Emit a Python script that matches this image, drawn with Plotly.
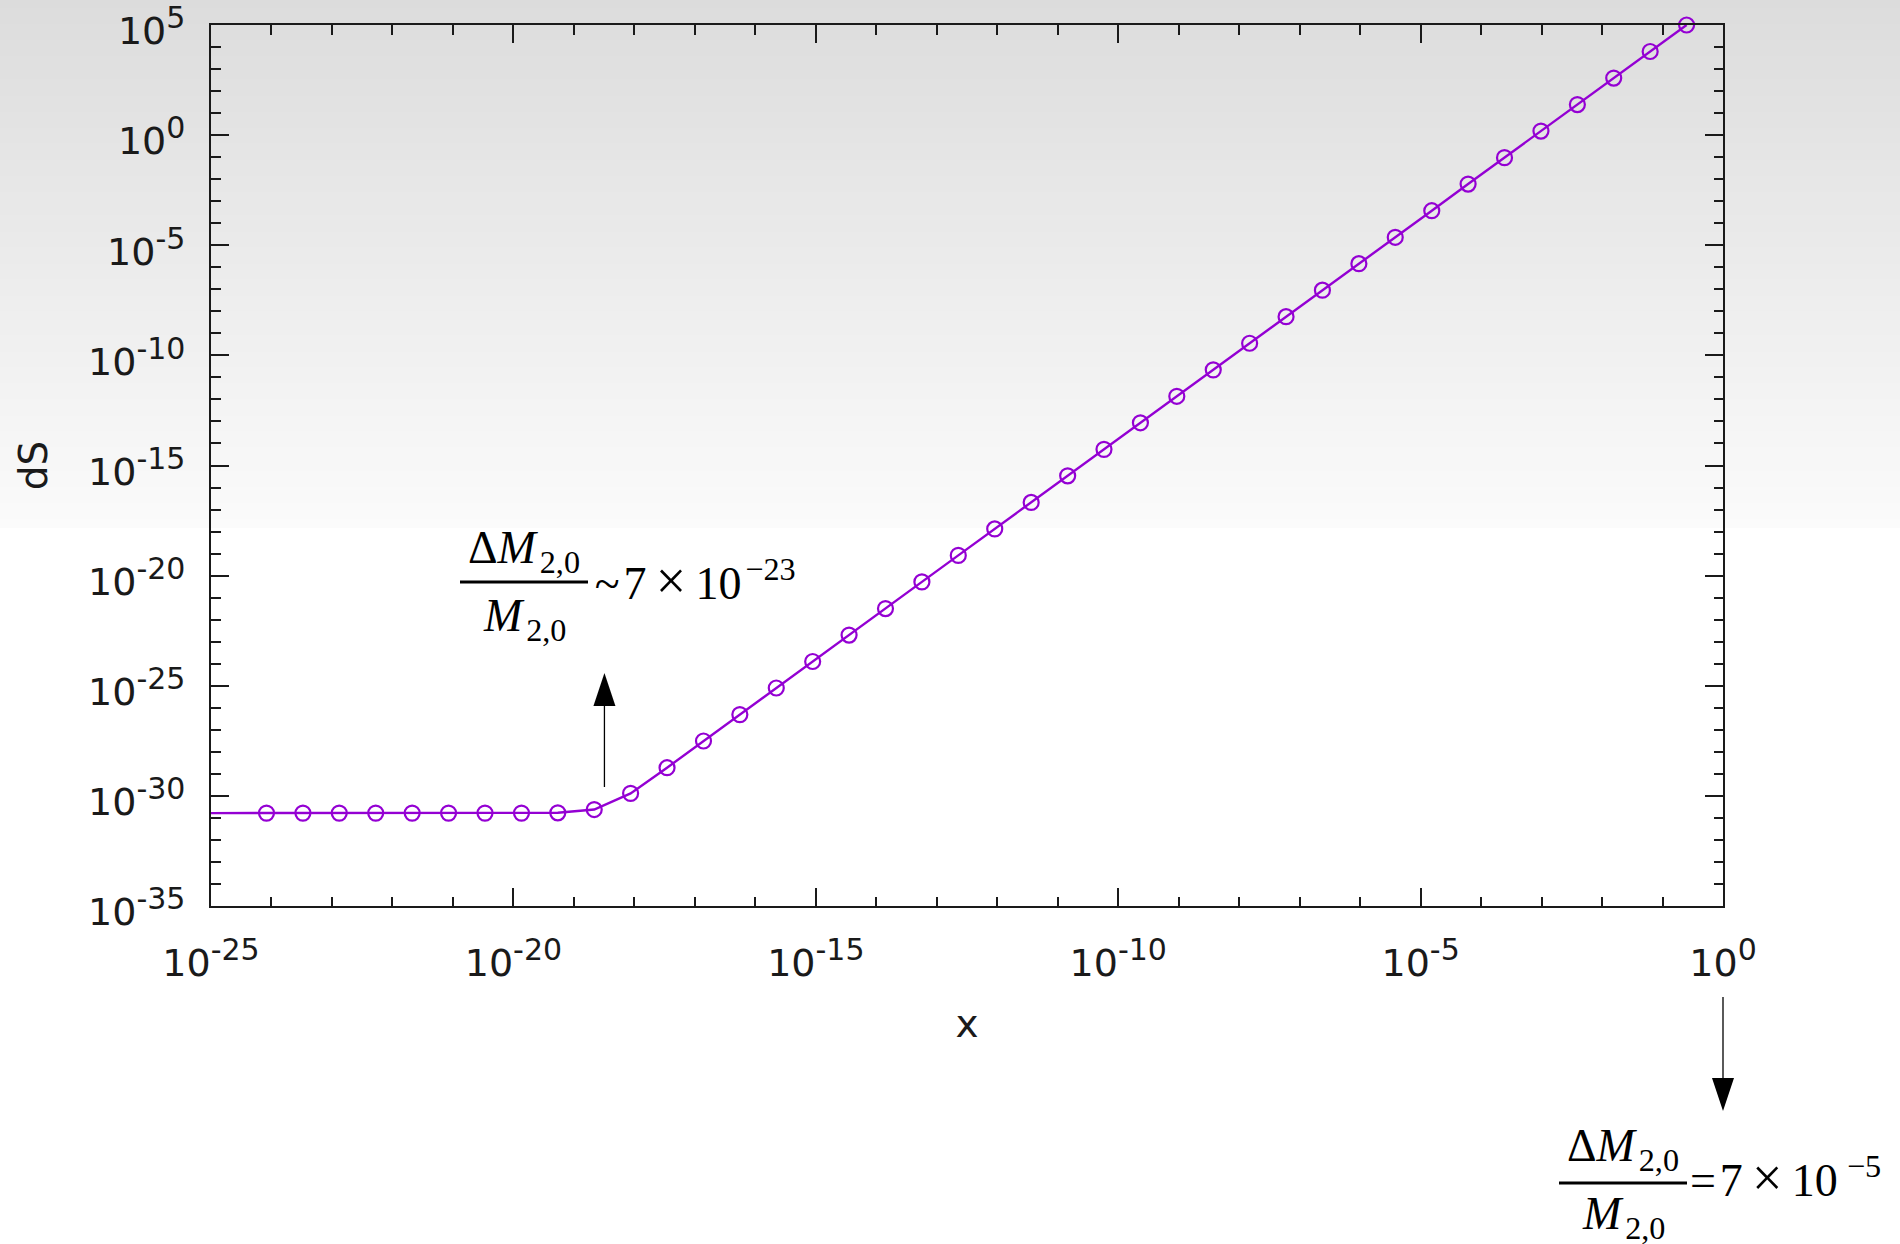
import math
import plotly.graph_objects as go

# ---------------------------------------------------------------- data
# sample points x = 4^-n (n = 40 ... 1) and the measured dS at each
x_pts = [8.27e-25, 3.31e-24, 1.32e-23, 5.29e-23, 2.12e-22, 8.47e-22, 3.39e-21,
         1.36e-20, 5.42e-20, 2.17e-19, 8.67e-19, 3.47e-18, 1.39e-17, 5.55e-17,
         2.22e-16, 8.88e-16, 3.55e-15, 1.42e-14, 5.68e-14, 2.27e-13, 9.09e-13,
         3.64e-12, 1.46e-11, 5.82e-11, 2.33e-10, 9.31e-10, 3.73e-9, 1.49e-8,
         5.96e-8, 2.38e-7, 9.54e-7, 3.81e-6, 1.53e-5, 6.10e-5, 2.44e-4, 9.77e-4,
         3.91e-3, 1.56e-2, 6.25e-2, 0.25]
dS_pts = [1.65e-31, 1.65e-31, 1.65e-31, 1.65e-31, 1.65e-31, 1.65e-31, 1.65e-31,
          1.65e-31, 1.7e-31, 2.4e-31, 1.3e-30, 1.9e-29, 3.1e-28, 4.9e-27,
          7.9e-26, 1.26e-24, 2.0e-23, 3.2e-22, 5.2e-21, 8.3e-20, 1.32e-18,
          2.1e-17, 3.4e-16, 5.4e-15, 8.7e-14, 1.39e-12, 2.2e-11, 3.55e-10,
          5.7e-9, 9.1e-8, 1.46e-6, 2.3e-5, 3.7e-4, 6.0e-3, 9.5e-2, 1.53,
          24.4, 3.9e2, 6.25e3, 1.0e5]

# continuous curve, starting on the plateau at the left edge of the x range
curve_x = [1e-25] + x_pts
curve_y = [1.65e-31] + dS_pts

x_range_exp = [-25, 0]
y_range_exp = [-35, 5]
x_tick_vals = [1e-25, 1e-20, 1e-15, 1e-10, 1e-5, 1e0]
x_tick_exps = ["-25", "-20", "-15", "-10", "-5", "0"]
y_tick_vals = [1e-35, 1e-30, 1e-25, 1e-20, 1e-15, 1e-10, 1e-5, 1e0, 1e5]
y_tick_exps = ["-35", "-30", "-25", "-20", "-15", "-10", "-5", "0", "5"]

# x positions of the two annotated arrows
arrow_low_x = 3.2e-19
arrow_high_x = 1.0

PURPLE = "#9400D3"
INK = "#1a1a1a"

# ---------------------------------------------------------------- layout geometry
W, H = 1900, 1244
L, R, T, B = 211, 177, 25, 338
PW, PH = W - L - R, H - T - B


def px_x(px):
    return (px - L) / PW


def px_y(py):
    return (H - B - py) / PH


def data_x(v):
    return (math.log10(v) - x_range_exp[0]) / (x_range_exp[1] - x_range_exp[0])


def tick_label(e):
    return "10<sup><span style='font-size:30px'>%s</span></sup>" % e


fig = go.Figure()

fig.add_trace(go.Scatter(
    x=curve_x, y=curve_y, mode="lines",
    line=dict(color=PURPLE, width=2.4), hoverinfo="skip",
))
fig.add_trace(go.Scatter(
    x=x_pts, y=dS_pts, mode="markers", cliponaxis=False,
    marker=dict(symbol="circle-open", size=15, color=PURPLE,
                line=dict(width=2.2, color=PURPLE)),
))

axis_common = dict(
    type="log", showline=True, linewidth=2, linecolor=INK, mirror="allticks",
    ticks="inside", ticklen=18, tickwidth=1.6, tickcolor=INK,
    showgrid=False, zeroline=False, tickmode="array", automargin=False,
    ticklabeloverflow="allow",
    tickfont=dict(family="DejaVu Sans", size=38, color=INK),
    minor=dict(tickmode="linear", tick0=0, dtick=1, ticks="inside",
               ticklen=9.5, tickwidth=1.6, tickcolor=INK, showgrid=False),
)

fig.update_xaxes(
    **axis_common, range=x_range_exp,
    tickvals=x_tick_vals, ticktext=[tick_label(e) for e in x_tick_exps],
    ticklabelstandoff=22,
    title=dict(text="x", font=dict(family="DejaVu Sans", size=39, color=INK),
               standoff=26),
)
fig.update_yaxes(
    **axis_common, range=y_range_exp,
    tickvals=y_tick_vals, ticktext=[tick_label(e) for e in y_tick_exps],
    ticklabelstandoff=16, ticklabelshift=6,
    title=dict(text="dS", font=dict(family="DejaVu Sans", size=39, color=INK),
               standoff=28),
)

# soft grey backdrop fading to white towards the middle of the page
shapes = []
n_bands = 66
fade_end = 527
for i in range(n_bands):
    y0 = fade_end * i / n_bands
    y1 = fade_end * (i + 1) / n_bands + 1
    g = int(round(220 + 31 * (i + 0.5) / n_bands))
    shapes.append(dict(
        type="rect", xref="paper", yref="paper", layer="below",
        x0=px_x(0), x1=px_x(W), y0=px_y(y1), y1=px_y(y0),
        line=dict(width=0), fillcolor="rgb(%d,%d,%d)" % (g, g, g),
    ))


def arrow(x_paper, tail_py, tip_py):
    d = 1 if tip_py > tail_py else -1
    base = tip_py - d * 33
    shapes.append(dict(type="line", xref="paper", yref="paper",
                       x0=x_paper, x1=x_paper, y0=px_y(tail_py), y1=px_y(base),
                       line=dict(color="black", width=1.3)))
    hw = 11 / PW
    shapes.append(dict(
        type="path", xref="paper", yref="paper", line=dict(width=0),
        fillcolor="black",
        path="M %f,%f L %f,%f L %f,%f Z" % (
            x_paper, px_y(tip_py), x_paper - hw, px_y(base),
            x_paper + hw, px_y(base)),
    ))


arrow(data_x(arrow_low_x), 787, 673)
arrow(data_x(arrow_high_x), 997, 1111)

# fraction bars
for (bx0, bx1, by) in [(460, 588, 582), (1559, 1687, 1183)]:
    shapes.append(dict(type="line", xref="paper", yref="paper",
                       x0=px_x(bx0), x1=px_x(bx1), y0=px_y(by), y1=px_y(by),
                       line=dict(color="black", width=3)))

fig.update_layout(shapes=shapes)

FS = 46
SERIF = dict(family="Liberation Serif", size=FS, color="black")
num_text = "Δ<i>M</i>\u200a<sub>2,0</sub>"
den_text = "<i>M</i>\u200a<sub>2,0</sub>"
TIMES = "\u2009<span style='font-size:54px'>×</span>\u2009"
ASC = 0.891 * FS                       # ascent of the main text
SUP_TOP = 0.42 * FS + 0.891 * 0.7 * FS  # top of a superscript above baseline


def text_at(text, px, py_top, xanchor):
    fig.add_annotation(text=text, xref="paper", yref="paper",
                       x=px_x(px), y=px_y(py_top), xanchor=xanchor,
                       yanchor="top", showarrow=False, font=SERIF,
                       borderpad=0)


# low-x annotation
text_at(num_text, 524, 562 - ASC, "center")
text_at(den_text, 524, 630 - ASC, "center")
text_at("\u200a~\u200a7" + TIMES + "10\u200a<sup>−23</sup>",
        590, 598 - SUP_TOP, "left")
# annotation at x = 1
text_at(num_text, 1623, 1160 - ASC, "center")
text_at(den_text, 1623, 1228 - ASC, "center")
text_at("=\u200a7" + TIMES + "10\u2009<sup>−5</sup>",
        1689, 1195 - SUP_TOP, "left")

fig.update_layout(
    width=W, height=H,
    margin=dict(l=L, r=R, t=T, b=B, pad=0, autoexpand=False),
    paper_bgcolor="white", plot_bgcolor="rgba(0,0,0,0)",
    showlegend=False,
    font=dict(family="DejaVu Sans", size=38, color=INK),
)

fig.write_html("out.html")
